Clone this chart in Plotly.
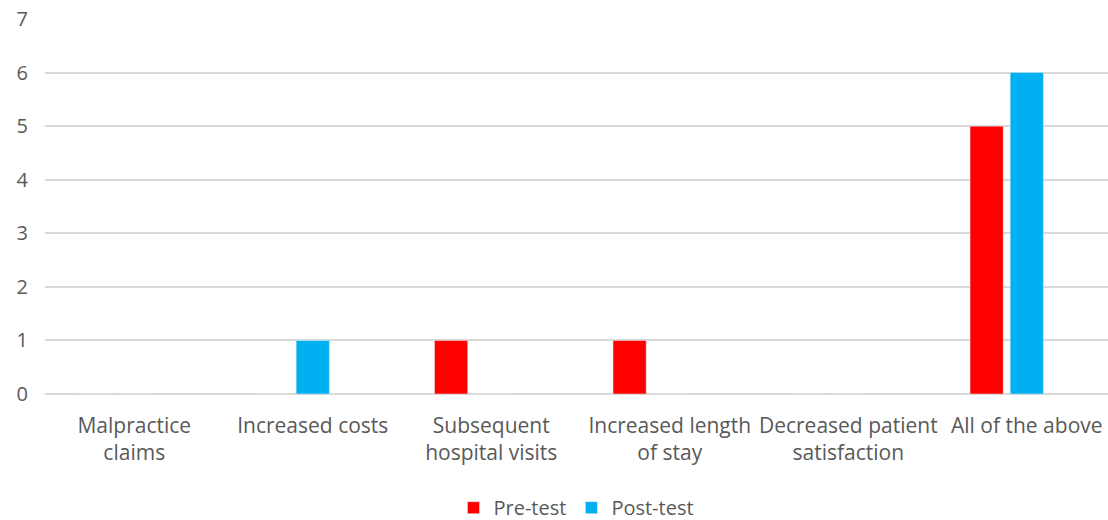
import plotly.graph_objects as go

categories = ["Malpractice<br>claims", "Increased costs", "Subsequent<br>hospital visits",
              "Increased length<br>of stay", "Decreased patient<br>satisfaction", "All of the above"]
pre_test = [0, 0, 1, 1, 0, 5]
post_test = [0, 1, 0, 0, 0, 6]
y_ticks = [0, 1, 2, 3, 4, 5, 6, 7]

FONT = "Open Sans"
TXT = "#595959"

fig = go.Figure()
fig.add_trace(go.Bar(name="Pre-test", x=categories, y=pre_test, marker_color="#FF0000",
                     width=0.186, offset=-0.318))
fig.add_trace(go.Bar(name="Post-test", x=categories, y=post_test, marker_color="#00B0F0",
                     width=0.186, offset=-0.093))

fig.update_layout(
    width=1108, height=520,
    margin=dict(l=45, r=0, t=19, b=126, autoexpand=False),
    plot_bgcolor="white", paper_bgcolor="white",
    barmode="overlay",
    font=dict(family=FONT, color=TXT, size=21),
    legend=dict(orientation="h", x=0.5, xanchor="center", y=-0.303, yanchor="middle",
                font=dict(size=20, color=TXT), itemwidth=30, traceorder="normal"),
    xaxis=dict(range=[-0.5, 5.455], showgrid=False, showline=False, ticks="", automargin=False,
               tickfont=dict(size=21, color=TXT), ticklabelstandoff=17, zeroline=False),
    yaxis=dict(range=[0, 7], tickvals=y_ticks, showgrid=True, gridcolor="#d9d9d9", gridwidth=1.5,
               zeroline=True, zerolinecolor="#d9d9d9", zerolinewidth=1.5, showline=False,
               automargin=False,
               ticks="", tickfont=dict(size=20, color=TXT), ticklabelstandoff=16),
)
fig.write_html("out.html")
